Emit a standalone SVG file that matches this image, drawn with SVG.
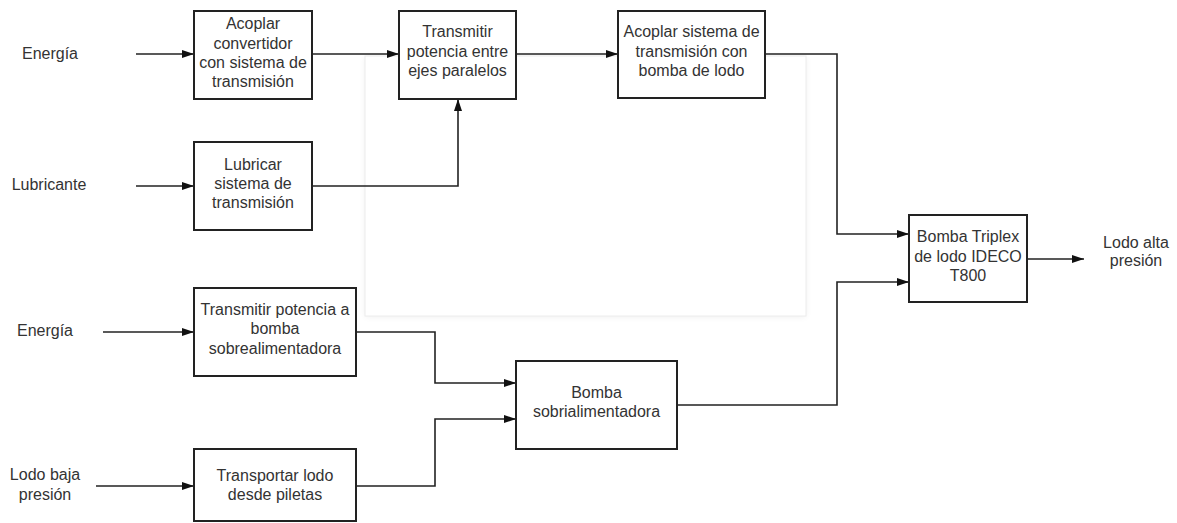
<svg xmlns="http://www.w3.org/2000/svg" width="1177" height="523" viewBox="0 0 1177 523">
<style>
.box{fill:#fff;stroke:#222;stroke-width:2}
.t{font-family:"Liberation Sans",Arial,sans-serif;font-size:16px;fill:#333;text-anchor:middle}
.c{fill:none;stroke:#222;stroke-width:1.6}
</style>
<defs>
<marker id="ah" viewBox="0 0 12 8" refX="12" refY="4" markerWidth="12" markerHeight="8" markerUnits="userSpaceOnUse" orient="auto">
<path d="M0,0 L12,4 L0,8 z" fill="#111"/>
</marker>
<filter id="sh" x="-5%" y="-5%" width="110%" height="110%"><feGaussianBlur stdDeviation="3"/></filter>
</defs>
<rect width="1177" height="523" fill="#fff"/>
<g id="panel">
<rect x="365" y="57" width="441" height="260" fill="#000" opacity="0.06" filter="url(#sh)"/>
<rect x="365" y="56" width="441" height="260" fill="#fff" stroke="#ececec" stroke-width="1"/>
</g>
<g id="connectors">
<path class="c" d="M136,54 H194" marker-end="url(#ah)"/>
<path class="c" d="M312,54 H399" marker-end="url(#ah)"/>
<path class="c" d="M136,186 H194" marker-end="url(#ah)"/>
<path class="c" d="M312,186 H458 V99" marker-end="url(#ah)"/>
<path class="c" d="M516,54 H618" marker-end="url(#ah)"/>
<path class="c" d="M765,54 H837 V234 H909" marker-end="url(#ah)"/>
<path class="c" d="M1027,259 H1084" marker-end="url(#ah)"/>
<path class="c" d="M103,332 H194" marker-end="url(#ah)"/>
<path class="c" d="M96,486 H194" marker-end="url(#ah)"/>
<path class="c" d="M356,332 H435 V383 H516" marker-end="url(#ah)"/>
<path class="c" d="M356,486 H435 V419 H516" marker-end="url(#ah)"/>
<path class="c" d="M677,405 H837 V282 H909" marker-end="url(#ah)"/>
</g>
<g id="labels">
<text class="t" x="50" y="58.5">Energía</text>
<text class="t" x="49" y="190">Lubricante</text>
<text class="t" x="45" y="336">Energía</text>
<text class="t" x="45" y="480">Lodo baja</text>
<text class="t" x="45" y="499.5">presión</text>
<text class="t" x="1136" y="247.5">Lodo alta</text>
<text class="t" x="1136" y="266">presión</text>
</g>
<g id="n1">
<rect class="box" x="194" y="11" width="118" height="88"/>
<text class="t" x="253" y="29.3">Acoplar</text>
<text class="t" x="253" y="48.5">convertidor</text>
<text class="t" x="253" y="67.7">con sistema de</text>
<text class="t" x="253" y="86.9">transmisión</text>
</g>
<g id="n2">
<rect class="box" x="194" y="142" width="118" height="88"/>
<text class="t" x="253" y="169.5">Lubricar</text>
<text class="t" x="253" y="188.5">sistema de</text>
<text class="t" x="253" y="207.5">transmisión</text>
</g>
<g id="n3">
<rect class="box" x="399" y="11" width="117" height="88"/>
<text class="t" x="457.5" y="37.3">Transmitir</text>
<text class="t" x="457.5" y="56.7">potencia entre</text>
<text class="t" x="457.5" y="76">ejes paralelos</text>
</g>
<g id="n4">
<rect class="box" x="618" y="11" width="147" height="87"/>
<text class="t" x="691.5" y="37.3">Acoplar sistema de</text>
<text class="t" x="691.5" y="56.7">transmisión con</text>
<text class="t" x="691.5" y="76">bomba de lodo</text>
</g>
<g id="n5">
<rect class="box" x="909" y="215" width="118" height="87"/>
<text class="t" x="968" y="242.3">Bomba Triplex</text>
<text class="t" x="968" y="261.7">de lodo IDECO</text>
<text class="t" x="968" y="281">T800</text>
</g>
<g id="n6">
<rect class="box" x="194" y="288" width="162" height="88"/>
<text class="t" x="275" y="315">Transmitir potencia a</text>
<text class="t" x="275" y="334.3">bomba</text>
<text class="t" x="275" y="353.5">sobrealimentadora</text>
</g>
<g id="n7">
<rect class="box" x="194" y="449" width="162" height="72"/>
<text class="t" x="275" y="481">Transportar lodo</text>
<text class="t" x="275" y="500">desde piletas</text>
</g>
<g id="n8">
<rect class="box" x="516" y="361" width="161" height="88"/>
<text class="t" x="596.5" y="398.3">Bomba</text>
<text class="t" x="596.5" y="417.3">sobrialimentadora</text>
</g>
</svg>
